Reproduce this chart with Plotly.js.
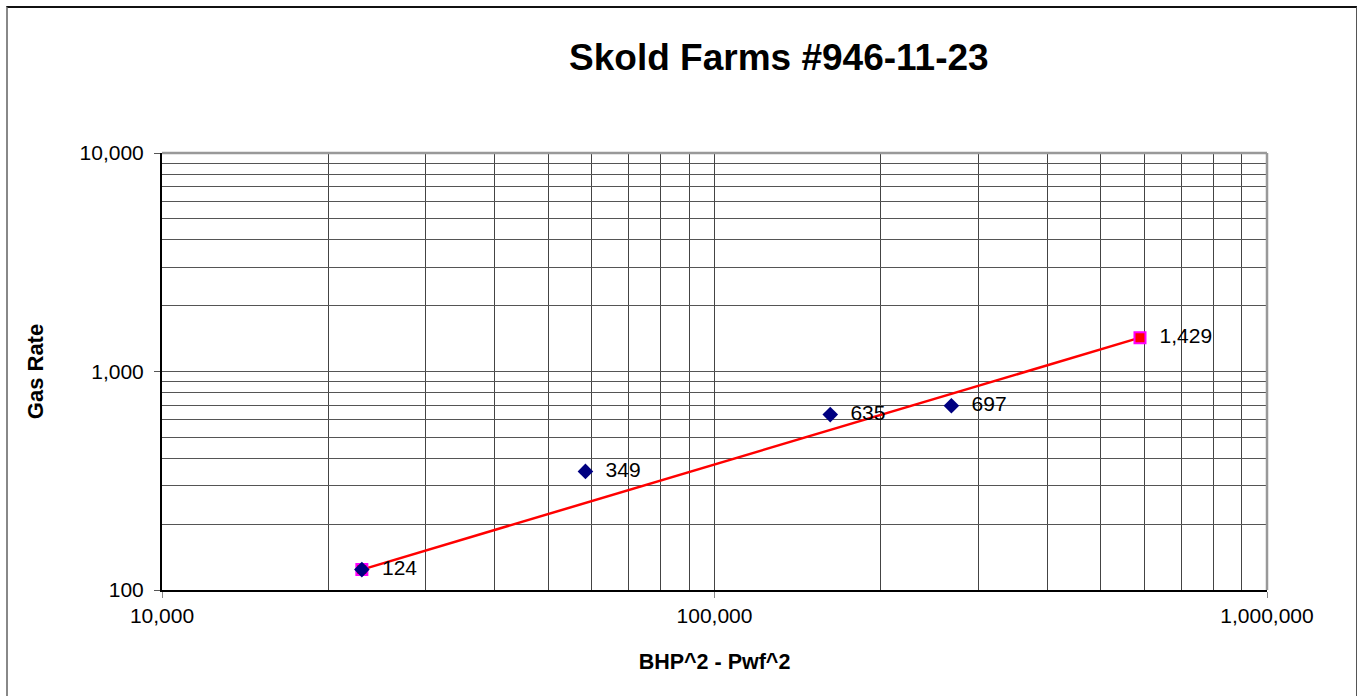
<!DOCTYPE html>
<html>
<head>
<meta charset="utf-8">
<script src="https://cdn.plot.ly/plotly-3.0.1.min.js"></script>
<style>
  html, body { margin: 0; padding: 0; background: #fff; }
  #wrap { position: relative; width: 1364px; height: 696px; }
  #chart { width: 1364px; height: 696px; }
  #frame { position: absolute; left: 6px; top: 6px; width: 1351px; height: 700px;
           border-top: 2px solid #111; border-left: 2px solid #888; border-right: 1px solid #555;
           pointer-events: none; box-sizing: border-box; }
</style>
</head>
<body>
<div id="wrap">
  <div id="chart"></div>
  <div id="frame"></div>
</div>
<script>
// Measured data points (BHP^2 - Pwf^2 vs Gas Rate)
var dpX = [23000, 58400, 162000, 268400];
var gasRate = [124, 349, 635, 697];
var gasLabels = ['124', '349', '635', '697'];

// Back-pressure fit line end points
var fitX = [23000, 589000];
var fitY = [124, 1429];
var fitLabels = ['', '1,429'];

// Axis ticks
var xTickVals = [10000, 100000, 1000000];
var xTickText = ['10,000', '100,000', '1,000,000'];
var yTickVals = [100, 1000, 10000];
var yTickText = ['100', '1,000', '10,000'];
var xMinorVals = [20000,30000,40000,50000,60000,70000,80000,90000,
                  200000,300000,400000,500000,600000,700000,800000,900000];
var yMinorVals = [200,300,400,500,600,700,800,900,
                  2000,3000,4000,5000,6000,7000,8000,9000];

var FONT = 'Liberation Sans, Arial, sans-serif';
var pad = function (s) { return s ? '\u00a0\u00a0' + s : s; };

var fitTrace = {
  x: fitX, y: fitY, text: fitLabels.map(pad),
  type: 'scatter', mode: 'lines+markers+text',
  textposition: 'middle right',
  textfont: { family: FONT, size: 21, color: '#000' },
  line: { color: '#ff0000', width: 2.5 },
  marker: { symbol: 'square', size: 11, color: '#ff0000', line: { color: '#ff00ff', width: 2 } },
  cliponaxis: false,
  hoverinfo: 'x+y', showlegend: false
};

var dataTrace = {
  x: dpX, y: gasRate, text: gasLabels.map(pad),
  type: 'scatter', mode: 'markers+text',
  textposition: 'middle right',
  textfont: { family: FONT, size: 21, color: '#000' },
  marker: { symbol: 'diamond', size: 12, color: '#000080' },
  cliponaxis: false,
  hoverinfo: 'x+y', showlegend: false
};

var layout = {
  width: 1364, height: 696,
  margin: { l: 162, r: 97, t: 153, b: 106 },
  paper_bgcolor: '#fff', plot_bgcolor: '#fff',
  font: { family: FONT, color: '#000' },
  title: {
    text: '<b>Skold Farms #946-11-23</b>',
    font: { family: FONT, size: 37, color: '#000' },
    xref: 'container', x: 0.571, xanchor: 'center',
    yref: 'container', y: 0.918, yanchor: 'middle'
  },
  xaxis: {
    type: 'log', range: [4, 6],
    tickmode: 'array', tickvals: xTickVals, ticktext: xTickText,
    tickfont: { family: FONT, size: 21, color: '#000' },
    ticks: 'outside', ticklen: 6, tickcolor: '#888', tickwidth: 1,
    showgrid: true, gridcolor: '#444', gridwidth: 1,
    minor: { tickmode: 'array', tickvals: xMinorVals, showgrid: true, gridcolor: '#444', gridwidth: 1, ticks: '' },
    showline: true, linecolor: '#000', linewidth: 2, zeroline: false,
    title: { text: '<b>BHP^2 - Pwf^2</b>', font: { family: FONT, size: 21.5, color: '#000' }, standoff: 28 },
    automargin: false
  },
  yaxis: {
    type: 'log', range: [2, 4],
    tickmode: 'array', tickvals: yTickVals, ticktext: yTickText,
    tickfont: { family: FONT, size: 21, color: '#000' },
    ticks: 'outside', ticklen: 6, tickcolor: '#555', tickwidth: 1,
    ticklabelstandoff: 6,
    showgrid: true, gridcolor: '#555', gridwidth: 1,
    minor: { tickmode: 'array', tickvals: yMinorVals, showgrid: true, gridcolor: '#555', gridwidth: 1, ticks: '' },
    showline: true, linecolor: '#000', linewidth: 2, zeroline: false,
    title: { text: '<b>Gas Rate</b>', font: { family: FONT, size: 22, color: '#000' }, standoff: 30 },
    automargin: false
  },
  shapes: [
    { type: 'line', xref: 'paper', yref: 'paper', x0: 0, x1: 1, y0: 1, y1: 1, line: { color: '#999', width: 2.5 } },
    { type: 'line', xref: 'paper', yref: 'paper', x0: 1, x1: 1, y0: 0, y1: 1, line: { color: '#999', width: 2.5 } }
  ]
};

Plotly.newPlot('chart', [fitTrace, dataTrace], layout, { displayModeBar: false, staticPlot: true });
</script>
</body>
</html>
